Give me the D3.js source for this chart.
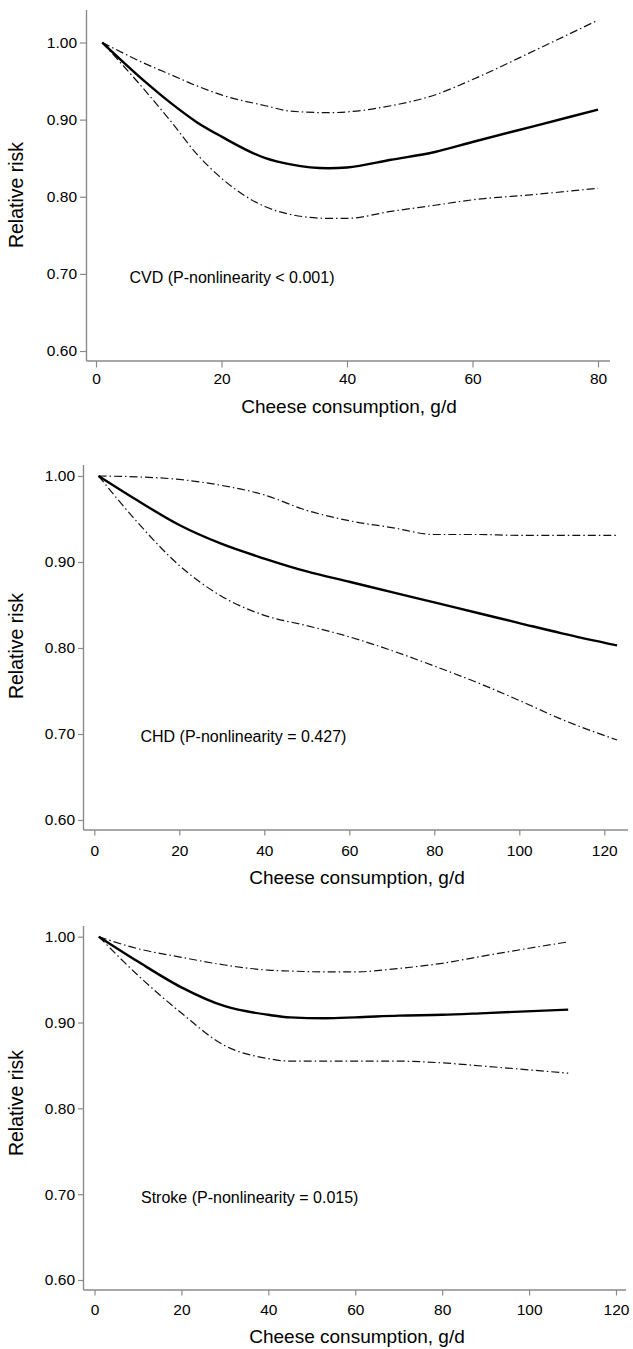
<!DOCTYPE html>
<html>
<head>
<meta charset="utf-8">
<script src="https://cdn.jsdelivr.net/npm/d3@7"></script>
<style>
  html, body { margin: 0; padding: 0; background: #fff; }
  svg { display: block; }
  text { font-family: "Liberation Sans", Arial, Helvetica, sans-serif; fill: #000; }
</style>
</head>
<body>
<svg id="chart" width="633" height="1349"></svg>
<script>
// ---------- DATA ----------
const yTicks = [0.60, 0.70, 0.80, 0.90, 1.00];
const xTicksCVD = [0, 20, 40, 60, 80];
const xTicksCHD = [0, 20, 40, 60, 80, 100, 120];
const xTicksStroke = [0, 20, 40, 60, 80, 100, 120];

const xTitle = "Cheese consumption, g/d";
const yTitle = "Relative risk";

// CVD
const cvdX     = [1, 8, 12, 16, 20, 27, 31, 37, 40, 47, 54, 60, 70, 80];
const cvdRR    = [1.000, 0.948, 0.921, 0.897, 0.878, 0.850, 0.842, 0.837, 0.838, 0.848, 0.858, 0.871, 0.892, 0.913];
const cvdUpper = [1.000, 0.972, 0.958, 0.944, 0.932, 0.918, 0.911, 0.909, 0.910, 0.918, 0.932, 0.952, 0.990, 1.029];
const cvdLower = [1.000, 0.936, 0.897, 0.856, 0.824, 0.787, 0.777, 0.772, 0.772, 0.781, 0.789, 0.796, 0.803, 0.811];
const cvdLabel = "CVD (P-nonlinearity < 0.001)";

// CHD
const chdX     = [1, 10, 20, 30, 40, 50, 60, 70, 80, 90, 100, 110, 123];
const chdRR    = [1.000, 0.972, 0.943, 0.921, 0.904, 0.889, 0.877, 0.865, 0.853, 0.841, 0.829, 0.817, 0.803];
const chdUpper = [1.000, 0.999, 0.996, 0.989, 0.978, 0.960, 0.948, 0.940, 0.932, 0.932, 0.931, 0.931, 0.931];
const chdLower = [1.000, 0.947, 0.896, 0.860, 0.838, 0.826, 0.813, 0.797, 0.779, 0.760, 0.739, 0.717, 0.693];
const chdLabel = "CHD (P-nonlinearity = 0.427)";

// Stroke
const strokeX     = [1, 10, 20, 30, 40, 45, 53, 60, 70, 80, 90, 109];
const strokeRR    = [1.000, 0.971, 0.941, 0.919, 0.909, 0.906, 0.905, 0.906, 0.908, 0.909, 0.911, 0.915];
const strokeUpper = [1.000, 0.986, 0.976, 0.967, 0.961, 0.960, 0.959, 0.959, 0.963, 0.969, 0.978, 0.994];
const strokeLower = [1.000, 0.955, 0.911, 0.873, 0.858, 0.855, 0.855, 0.855, 0.855, 0.853, 0.849, 0.841];
const strokeLabel = "Stroke (P-nonlinearity = 0.015)";

// ---------- LAYOUT ----------
const panels = [
  { xs: cvdX, rr: cvdRR, up: cvdUpper, lo: cvdLower, label: cvdLabel, xTicks: xTicksCVD,
    xDom: [0, 80], xRange: [96, 598], yRange: [351, 42.5],
    axisLeft: 86.5, axisRight: 610, axisTop: 10, axisBottom: 361,
    tickLen: 6.5, xLabelBase: 384, xTitleX: 349, xTitleBase: 412.5, yTitleY: 195,
    annX: 129.5, annBase: 283 },
  { xs: chdX, rr: chdRR, up: chdUpper, lo: chdLower, label: chdLabel, xTicks: xTicksCHD,
    xDom: [0, 120], xRange: [94.3, 604.3], yRange: [820, 476],
    axisLeft: 83.5, axisRight: 628, axisTop: 465, axisBottom: 830,
    tickLen: 5.5, xLabelBase: 856, xTitleX: 357, xTitleBase: 884, yTitleY: 646,
    annX: 140.5, annBase: 741.5 },
  { xs: strokeX, rr: strokeRR, up: strokeUpper, lo: strokeLower, label: strokeLabel, xTicks: xTicksStroke,
    xDom: [0, 120], xRange: [94.5, 616], yRange: [1280, 936.7],
    axisLeft: 83.5, axisRight: 626, axisTop: 926, axisBottom: 1290,
    tickLen: 5.5, xLabelBase: 1315, xTitleX: 357, xTitleBase: 1343, yTitleY: 1103,
    annX: 141, annBase: 1202.5 }
];

const svg = d3.select("#chart");
const axisColor = "#8a8a8a";

panels.forEach(p => {
  const x = d3.scaleLinear().domain(p.xDom).range(p.xRange);
  const y = d3.scaleLinear().domain([0.60, 1.00]).range(p.yRange);
  const g = svg.append("g");

  // axes lines
  g.append("line").attr("x1", p.axisLeft).attr("x2", p.axisLeft)
    .attr("y1", p.axisTop).attr("y2", p.axisBottom)
    .attr("stroke", axisColor).attr("stroke-width", 1.4);
  g.append("line").attr("x1", p.axisLeft).attr("x2", p.axisRight)
    .attr("y1", p.axisBottom).attr("y2", p.axisBottom)
    .attr("stroke", axisColor).attr("stroke-width", 1.4);

  // y ticks
  const yAxis = d3.axisLeft(y).tickValues(yTicks).tickFormat(d3.format(".2f"))
    .tickSize(p.tickLen).tickSizeOuter(0).tickPadding(3);
  const ya = g.append("g").attr("transform", `translate(${p.axisLeft},0)`).call(yAxis);
  ya.select(".domain").remove();
  ya.selectAll(".tick line").attr("stroke", axisColor).attr("stroke-width", 1.2);
  ya.selectAll(".tick text").attr("font-size", 15.5).attr("fill", "#000")
    .attr("font-family", "Liberation Sans, Arial, sans-serif");

  // x ticks
  const xAxis = d3.axisBottom(x).tickValues(p.xTicks).tickFormat(d3.format("d"))
    .tickSize(p.tickLen).tickSizeOuter(0);
  const xa = g.append("g").attr("transform", `translate(0,${p.axisBottom})`).call(xAxis);
  xa.select(".domain").remove();
  xa.selectAll(".tick line").attr("stroke", axisColor).attr("stroke-width", 1.2);
  xa.selectAll(".tick text").attr("font-size", 15.5).attr("fill", "#000")
    .attr("font-family", "Liberation Sans, Arial, sans-serif")
    .attr("dy", null).attr("y", p.xLabelBase - p.axisBottom);

  // axis titles
  g.append("text").attr("x", p.xTitleX).attr("y", p.xTitleBase)
    .attr("text-anchor", "middle").attr("font-size", 19).text(xTitle);
  g.append("text").attr("transform", `translate(23,${p.yTitleY}) rotate(-90)`)
    .attr("text-anchor", "middle").attr("font-size", 19.5).text(yTitle);

  // annotation
  g.append("text").attr("x", p.annX).attr("y", p.annBase)
    .attr("font-size", 16).text(p.label);

  // curves
  const line = d3.line().x(d => x(d[0])).y(d => y(d[1])).curve(d3.curveMonotoneX);
  const mk = arr => p.xs.map((v, i) => [v, arr[i]]);

  [p.up, p.lo].forEach(arr => {
    g.append("path").datum(mk(arr)).attr("d", line)
      .attr("fill", "none").attr("stroke", "#111").attr("stroke-width", 1.2)
      .attr("stroke-dasharray", "8,3,1.5,3");
  });
  g.append("path").datum(mk(p.rr)).attr("d", line)
    .attr("fill", "none").attr("stroke", "#000").attr("stroke-width", 2.4);
});
</script>
</body>
</html>
